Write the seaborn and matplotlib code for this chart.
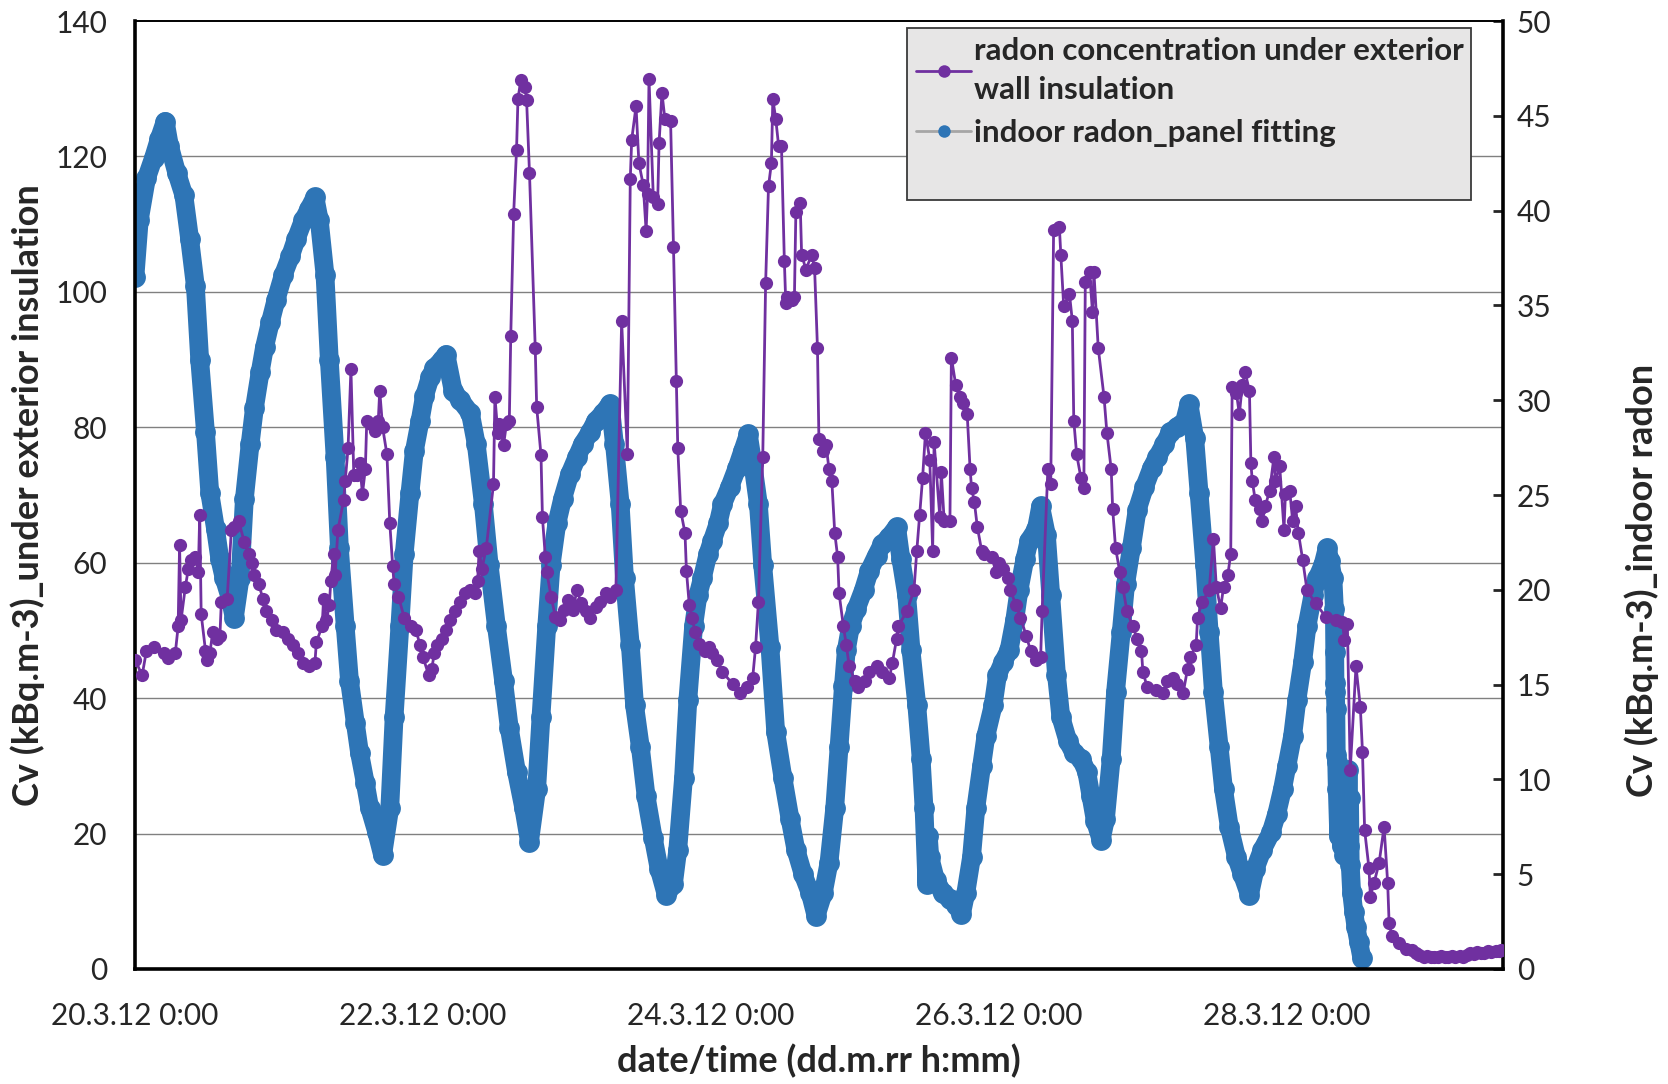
import pandas as pd
import matplotlib
matplotlib.use("Agg")
import matplotlib.pyplot as plt
import matplotlib.dates as mdates
from matplotlib.lines import Line2D
import seaborn as sns

# ---- data (time in days after 20.3.12 0:00) ----
wall_days = [
    0.00, 0.05, 0.08, 0.13, 0.20, 0.23, 0.28, 0.30, 0.31, 0.32, 0.35, 0.37, 0.39,
    0.42, 0.44, 0.45, 0.46, 0.49, 0.50, 0.52, 0.54, 0.57, 0.59, 0.60, 0.64, 0.67,
    0.69, 0.72, 0.76, 0.79, 0.81, 0.83, 0.86, 0.89, 0.91, 0.95, 0.98,
    1.03, 1.06, 1.10, 1.13, 1.17, 1.21, 1.25, 1.26, 1.30, 1.31, 1.33, 1.35, 1.36,
    1.38, 1.39, 1.41, 1.45, 1.46, 1.48, 1.50, 1.52, 1.54, 1.56, 1.58, 1.60, 1.61,
    1.64, 1.67, 1.69, 1.70, 1.72, 1.75, 1.77, 1.79, 1.80, 1.83, 1.87, 1.92, 1.95, 1.98,
    2.00, 2.04, 2.06, 2.08, 2.10, 2.13, 2.16, 2.19, 2.22, 2.26, 2.29, 2.33, 2.36,
    2.38, 2.39, 2.41, 2.44, 2.49, 2.50, 2.52, 2.53, 2.56, 2.58, 2.60, 2.61, 2.63,
    2.65, 2.66, 2.68, 2.71, 2.72, 2.74, 2.78, 2.79, 2.82, 2.83, 2.85, 2.86, 2.89,
    2.92, 2.95, 2.98,
    3.01, 3.04, 3.07, 3.10, 3.13, 3.16, 3.20, 3.23, 3.27, 3.30, 3.34, 3.38, 3.42,
    3.44, 3.45, 3.48, 3.50, 3.53, 3.55, 3.56, 3.57, 3.60, 3.63, 3.64, 3.66, 3.68,
    3.72, 3.74, 3.76, 3.77, 3.79, 3.82, 3.83, 3.85, 3.87, 3.89, 3.92, 3.96, 3.99,
    4.01, 4.04, 4.08, 4.15, 4.20, 4.25, 4.29, 4.31, 4.33, 4.36, 4.38, 4.40, 4.42,
    4.43, 4.45, 4.47, 4.49, 4.51, 4.52, 4.53, 4.56, 4.58, 4.59, 4.62, 4.63, 4.66,
    4.70, 4.72, 4.74, 4.75, 4.78, 4.80, 4.82, 4.84, 4.86, 4.88, 4.89, 4.92, 4.94, 4.96,
    5.00, 5.02, 5.07, 5.10, 5.15, 5.19, 5.24, 5.26, 5.29, 5.30, 5.36, 5.41, 5.43,
    5.45, 5.47, 5.49, 5.52, 5.54, 5.55, 5.59, 5.60, 5.62, 5.66, 5.67, 5.70, 5.73,
    5.75, 5.78, 5.80, 5.81, 5.83, 5.85, 5.88, 5.90, 5.95, 5.98,
    6.00, 6.03, 6.06, 6.08, 6.12, 6.15, 6.19, 6.22, 6.26, 6.29, 6.30, 6.34, 6.36,
    6.38, 6.42, 6.43, 6.45, 6.49, 6.51, 6.52, 6.54, 6.57, 6.59, 6.60, 6.63, 6.65,
    6.66, 6.69, 6.73, 6.75, 6.78, 6.79, 6.81, 6.84, 6.86, 6.89, 6.93, 6.96, 6.99,
    7.00, 7.03, 7.09, 7.14, 7.17, 7.21, 7.24, 7.28, 7.31, 7.33, 7.37, 7.38, 7.41,
    7.46, 7.49, 7.51, 7.54, 7.56, 7.59, 7.61, 7.62, 7.65, 7.67, 7.69, 7.71, 7.74,
    7.75, 7.76, 7.78, 7.81, 7.83, 7.85, 7.88, 7.91, 7.92, 7.95, 7.98, 7.99,
    8.02, 8.04, 8.06, 8.08, 8.11, 8.14, 8.20, 8.27, 8.34, 8.385, 8.40, 8.42, 8.44,
    8.48, 8.51, 8.525, 8.54, 8.57, 8.58, 8.605, 8.64, 8.675, 8.70, 8.71, 8.73, 8.78,
    8.83, 8.87, 8.90, 8.92, 8.95, 8.97, 9.00, 9.02, 9.05, 9.07, 9.10, 9.12, 9.15,
    9.17, 9.20, 9.22, 9.25, 9.27, 9.30, 9.32, 9.35, 9.37, 9.40, 9.42, 9.45, 9.47, 9.49,
]
wall_kbq = [
    45.7, 43.4, 47.0, 47.5, 46.6, 46.0, 46.6, 50.6, 62.6, 51.5, 56.4, 59.0, 60.4,
    60.9, 58.6, 67.1, 52.4, 47.0, 45.7, 46.6, 49.7, 48.8, 49.2, 54.2, 54.6, 64.9,
    65.3, 66.2, 63.0, 61.3, 60.0, 58.2, 56.8, 54.6, 52.8, 51.5, 50.1,
    49.7, 48.8, 47.9, 46.6, 45.2, 44.8, 45.2, 48.3, 50.6, 54.6, 51.5, 53.7, 57.3,
    61.3, 58.2, 64.9, 69.3, 72.0, 76.9, 88.6, 72.9, 72.9, 74.7, 70.2, 73.8, 81.0,
    80.5, 79.4, 81.0, 85.4, 80.0, 76.0, 65.8, 59.5, 56.8, 55.0, 51.9, 50.6, 50.1, 47.9,
    46.1, 43.4, 44.3, 46.6, 47.9, 48.8, 50.1, 51.5, 52.8, 54.2, 55.5, 55.9, 55.5,
    57.3, 61.8, 59.1, 62.2, 71.6, 84.5, 79.2, 80.5, 77.4, 80.5, 81.0, 93.5, 111.5,
    120.9, 128.5, 131.3, 130.3, 128.3, 117.6, 91.7, 83.0, 75.9, 66.7, 60.9, 58.6, 55.0,
    52.0, 51.5, 53.0,
    54.5, 53.0, 55.9, 54.0, 52.8, 51.9, 53.5, 54.2, 55.5, 55.0, 55.9, 95.7, 76.0,
    116.7, 122.5, 127.4, 119.0, 115.8, 109.0, 114.5, 131.5, 114.0, 113.0, 122.0, 129.4, 125.6,
    125.2, 106.7, 86.8, 76.9, 67.7, 64.4, 58.8, 53.7, 51.9, 49.7, 48.0, 47.0, 47.5,
    46.6, 45.7, 43.9, 42.1, 40.8, 41.6, 43.0, 47.5, 54.2, 75.6, 101.3, 115.6, 119.0,
    128.5, 125.6, 121.6, 121.6, 104.6, 98.3, 99.3, 98.8, 99.3, 111.8, 113.1, 105.5, 103.3,
    105.5, 103.5, 91.7, 78.3, 76.5, 77.4, 73.8, 72.0, 64.4, 60.9, 55.5, 50.6, 47.9, 44.8,
    42.5, 41.6, 42.5, 43.9, 44.8, 43.9, 43.0, 45.2, 48.8, 50.6, 52.8, 55.9, 61.8,
    67.1, 72.5, 79.2, 75.2, 61.8, 77.8, 66.7, 73.4, 66.2, 66.2, 90.3, 86.3, 84.5,
    83.6, 81.9, 73.8, 71.1, 68.9, 65.3, 61.8, 61.3, 60.9, 58.6,
    60.0, 59.1, 57.7, 55.9, 53.7, 51.9, 49.2, 47.0, 45.7, 46.1, 52.8, 73.8, 71.6,
    109.1, 109.6, 105.5, 97.9, 99.7, 95.7, 81.0, 76.0, 72.5, 71.1, 101.5, 102.9, 97.0,
    102.9, 91.7, 84.5, 79.2, 73.8, 68.0, 62.2, 58.6, 56.4, 52.8, 50.6, 48.8, 47.0,
    43.9, 41.6, 41.2, 40.8, 42.5, 43.0, 42.1, 40.8, 44.3, 46.1, 47.9, 51.9, 54.2,
    55.9, 63.5, 56.4, 53.3, 56.4, 58.2, 61.3, 85.9, 85.0, 81.9, 86.3, 88.1, 85.4,
    74.7, 72.0, 69.3, 68.0, 66.2, 68.4, 70.6, 75.6, 72.0, 74.3, 64.9, 70.2,
    70.6, 66.2, 68.4, 64.4, 60.4, 55.9, 54.0, 52.0, 51.5, 51.3, 48.6, 51.0, 29.4,
    44.7, 38.7, 32.1, 20.5, 14.9, 10.7, 12.7, 15.6, 21.0, 12.7, 6.8, 4.8, 3.8,
    3.0, 2.8, 2.3, 2.0, 1.8, 1.9, 1.7, 1.8, 1.7, 1.9, 1.8, 1.7, 1.9,
    1.8, 1.9, 1.8, 2.0, 2.4, 2.2, 2.5, 2.3, 2.4, 2.6, 2.5, 2.7, 2.6, 2.8,
]

indoor_days = [
    0.00, 0.03, 0.08, 0.13, 0.17, 0.21, 0.24, 0.29, 0.34, 0.38, 0.42, 0.45, 0.49,
    0.52, 0.56, 0.59, 0.62, 0.66, 0.69, 0.73, 0.76, 0.80, 0.83, 0.87, 0.90, 0.94, 0.98,
    1.03, 1.08, 1.12, 1.17, 1.21, 1.25, 1.28, 1.32, 1.35, 1.39, 1.42, 1.46, 1.49,
    1.53, 1.56, 1.60, 1.63, 1.68, 1.72, 1.77, 1.80, 1.84, 1.87, 1.91, 1.94, 1.98,
    2.01, 2.05, 2.08, 2.13, 2.16, 2.21, 2.26, 2.33, 2.37, 2.42, 2.46, 2.51, 2.56,
    2.60, 2.65, 2.70, 2.74, 2.79, 2.82, 2.86, 2.89, 2.93, 2.97,
    3.02, 3.07, 3.11, 3.16, 3.20, 3.25, 3.30, 3.33, 3.37, 3.40, 3.44, 3.47, 3.51,
    3.55, 3.60, 3.64, 3.69, 3.74, 3.77, 3.81, 3.84, 3.88, 3.91, 3.94, 3.98,
    4.01, 4.05, 4.08, 4.13, 4.18, 4.22, 4.26, 4.29, 4.33, 4.36, 4.41, 4.45, 4.50,
    4.55, 4.59, 4.64, 4.69, 4.73, 4.78, 4.82, 4.86, 4.89, 4.92, 4.94, 4.97,
    5.01, 5.06, 5.10, 5.15, 5.19, 5.24, 5.29, 5.32, 5.36, 5.39, 5.43, 5.46, 5.48,
    5.50, 5.51, 5.52, 5.56, 5.61, 5.66, 5.70, 5.74, 5.77, 5.81, 5.84, 5.88, 5.91,
    5.96, 5.99,
    6.03, 6.07, 6.11, 6.14, 6.18, 6.21, 6.26, 6.29, 6.33, 6.36, 6.40, 6.43, 6.48,
    6.52, 6.57, 6.61, 6.64, 6.67, 6.71, 6.74, 6.78, 6.81, 6.85, 6.88, 6.92, 6.96,
    7.01, 7.06, 7.10, 7.15, 7.19, 7.24, 7.29, 7.32, 7.36, 7.39, 7.43, 7.46, 7.49,
    7.53, 7.56, 7.60, 7.65, 7.69, 7.74, 7.78, 7.83, 7.89, 7.93, 7.97,
    8.00, 8.04, 8.07, 8.11, 8.14, 8.18, 8.21, 8.25, 8.28, 8.30, 8.32, 8.33, 8.332,
    8.334, 8.337, 8.34, 8.343, 8.346, 8.35, 8.36, 8.37, 8.38, 8.39, 8.40, 8.41, 8.42,
    8.425, 8.43, 8.435, 8.44, 8.45, 8.465, 8.48, 8.50, 8.52,
]
indoor_kbq = [
    36.5, 39.5, 41.7, 42.8, 43.8, 44.7, 43.4, 42.0, 40.8, 38.5, 36.0, 32.1, 28.3,
    25.1, 23.2, 21.6, 20.6, 19.6, 18.5, 20.6, 24.8, 27.7, 29.6, 31.5, 32.8, 34.1, 35.3,
    36.6, 37.6, 38.5, 39.5, 40.1, 40.7, 39.5, 36.6, 32.1, 27.0, 22.2, 18.1, 15.2,
    13.0, 11.4, 9.8, 8.5, 7.2, 6.0, 8.5, 13.3, 18.1, 21.9, 25.1, 27.3, 28.9,
    30.2, 31.2, 31.7, 32.1, 32.4, 30.5, 30.0, 29.3, 27.7, 24.5, 21.3, 18.1, 15.2,
    12.7, 10.4, 8.5, 6.7, 9.5, 13.3, 18.1, 21.3, 23.5, 24.8,
    26.1, 27.0, 27.7, 28.3, 28.9, 29.3, 29.8, 27.7, 24.5, 20.6, 17.1, 13.9, 11.7,
    9.1, 6.9, 5.3, 3.9, 4.5, 6.3, 10.1, 14.2, 18.1, 19.7, 20.6, 21.9,
    22.6, 23.5, 24.5, 25.4, 26.4, 27.3, 28.2, 26.7, 24.5, 21.3, 17.0, 12.5, 10.1,
    7.9, 6.3, 5.0, 4.0, 2.8, 4.0, 5.6, 8.5, 11.7, 14.9, 16.8, 18.1,
    19.0, 20.0, 21.0, 21.8, 22.4, 22.8, 23.3, 21.6, 19.7, 16.8, 13.9, 11.1, 8.5,
    4.5, 7.0, 5.9, 4.7, 4.0, 3.7, 3.4, 2.9, 4.0, 5.9, 8.5, 10.7, 12.3,
    13.9, 15.5,
    16.2, 16.8, 18.4, 20.0, 21.6, 22.6, 23.2, 24.4, 22.9, 19.7, 15.5, 13.3, 12.0,
    11.4, 11.1, 10.4, 9.1, 7.8, 6.8, 7.9, 11.1, 14.6, 17.8, 20.3, 22.2, 24.2,
    25.4, 26.4, 27.0, 27.7, 28.3, 28.6, 28.9, 29.8, 28.0, 25.1, 21.3, 17.8, 14.6,
    11.7, 9.5, 7.5, 5.9, 5.0, 3.9, 5.3, 6.3, 7.2, 8.2, 9.5,
    10.7, 12.3, 14.2, 16.2, 18.1, 19.7, 20.6, 21.3, 22.2, 21.5, 20.6, 19.0, 16.7,
    15.1, 14.6, 13.7, 11.3, 10.9, 9.5, 7.0, 9.0, 6.5, 8.5, 6.0, 9.5, 7.0,
    10.5, 6.5, 9.0, 5.5, 4.0, 3.0, 2.2, 1.4, 0.6,
]

left_ticks = [0, 20, 40, 60, 80, 100, 120, 140]
right_ticks = [0, 5, 10, 15, 20, 25, 30, 35, 40, 45, 50]
label_days = [20, 22, 24, 26, 28]

PURPLE = "#7030A0"
BLUE = "#2E75B6"

sns.set_style("white")
plt.rcParams["font.family"] = ["Lato", "DejaVu Sans"]

start = pd.Timestamp("2012-03-20 00:00")
wall = pd.DataFrame({"time": start + pd.to_timedelta(wall_days, unit="D"), "kbq": wall_kbq})
indoor = pd.DataFrame({"time": start + pd.to_timedelta(indoor_days, unit="D"), "kbq": indoor_kbq})

fig = plt.figure(figsize=(16.68, 10.84), dpi=100)
ax = fig.add_axes([0.0809, 0.1061, 0.8201, 0.8745])
ax2 = ax.twinx()
ax.set_zorder(ax2.get_zorder() + 1)
ax.patch.set_visible(False)

ax.set_ylim(left_ticks[0], left_ticks[-1])
ax2.set_ylim(right_ticks[0], right_ticks[-1])
ax.set_xlim(start, start + pd.Timedelta(hours=228))

# gridlines of the left scale, drawn behind the indoor band
scale = right_ticks[-1] / left_ticks[-1]
for v in left_ticks[1:-1]:
    ax2.axhline(v * scale, color="#808080", lw=1.0, zorder=0)

sns.lineplot(data=indoor, x="time", y="kbq", ax=ax2, color=BLUE, linewidth=13.5,
             marker="o", markersize=15, markeredgewidth=0, estimator=None,
             sort=False, legend=False, solid_joinstyle="round",
             solid_capstyle="round", zorder=2)
sns.lineplot(data=wall, x="time", y="kbq", ax=ax, color=PURPLE, linewidth=2.0,
             marker="o", markersize=9.5, markeredgewidth=0, estimator=None,
             sort=False, legend=False, zorder=3)

# x axis
ax.xaxis.set_major_locator(mdates.DayLocator(bymonthday=label_days))
ax.xaxis.set_minor_locator(mdates.DayLocator())


def fmt_date(v, pos):
    d = mdates.num2date(v)
    return f"{d.day}.{d.month}.{d:%y} {d.hour}:{d.minute:02d}"


ax.xaxis.set_major_formatter(plt.FuncFormatter(fmt_date))
ax.tick_params(axis="x", which="both", direction="in", length=7, width=2,
               labelsize=21.5, pad=24, color="black")

ax.set_yticks(left_ticks)
ax.tick_params(axis="y", length=0, labelsize=21.5, pad=20)
ax2.set_yticks(right_ticks)
ax2.tick_params(axis="y", direction="in", length=7, width=2, labelsize=21.5, pad=10)

for side in ["left", "bottom"]:
    ax.spines[side].set_linewidth(2.6)
ax.spines["top"].set_linewidth(1.4)
ax.spines["right"].set_visible(False)
for side in ["left", "bottom", "top"]:
    ax2.spines[side].set_visible(False)
ax2.spines["right"].set_linewidth(2.6)
for sp in list(ax.spines.values()) + list(ax2.spines.values()):
    sp.set_color("black")

ax.set_xlabel("date/time (dd.m.rr h:mm)", fontsize=26, fontweight="bold")
ax.xaxis.set_label_coords(0.5, -0.079)
ax.set_ylabel("Cv (kBq.m-3)_under exterior insulation", fontsize=26, fontweight="bold")
ax.yaxis.set_label_coords(-0.066, 0.5)
ax2.set_ylabel("Cv (kBq.m-3)_indoor radon", fontsize=26, fontweight="bold", rotation=90)
ax2.yaxis.set_label_coords(1.0885, 0.41)

handles = [
    Line2D([], [], color=PURPLE, lw=2, marker="o", markersize=9, markeredgewidth=0),
    Line2D([], [], color="#A6A6A6", lw=2, marker="o", markersize=9,
           markerfacecolor=BLUE, markeredgewidth=0),
    Line2D([], [], alpha=0),
]
labels = ["radon concentration under exterior\nwall insulation",
          "indoor radon_panel fitting", " "]
leg = ax.legend(handles, labels, loc="upper left", bbox_to_anchor=(0.5643, 0.5, 0.4123, 0.4926),
                mode="expand", borderaxespad=0, frameon=True, fancybox=False,
                facecolor="#E7E6E6", edgecolor="#3A3A3A", framealpha=1,
                handlelength=1.75, handletextpad=0.1, labelspacing=0.5,
                borderpad=0.3, prop={"size": 22.5, "weight": "bold"})
leg.get_frame().set_linewidth(1.3)
for t in leg.get_texts():
    t.set_linespacing(1.45)

fig.savefig("out.png", dpi=100)
